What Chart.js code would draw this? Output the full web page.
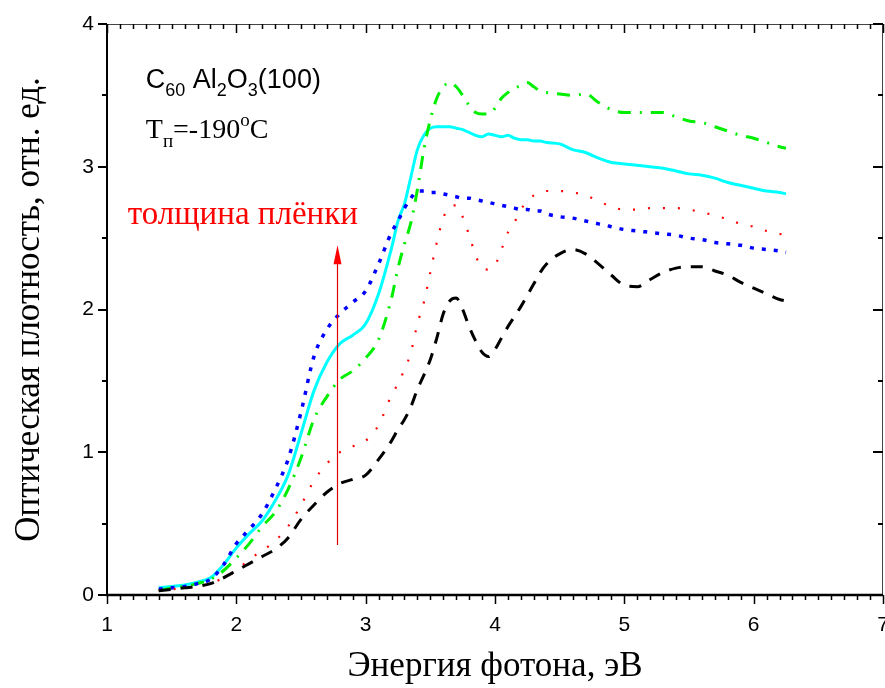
<!DOCTYPE html>
<html>
<head>
<meta charset="utf-8">
<script src="https://cdn.jsdelivr.net/npm/chart.js@4"></script>
<style>
  html, body { margin: 0; padding: 0; background: #fff; }
  #wrap { width: 885px; height: 688px; }
</style>
</head>
<body>
<div id="wrap"><canvas id="absorb"></canvas></div>
<script>
// photon energy, eV (shared by every spectrum)
const energy = [
  1.4, 1.5, 1.6, 1.7, 1.8, 1.9, 2.0, 2.1, 2.2, 2.3, 2.4, 2.5, 2.6, 2.7, 2.8, 2.9,
  3.0, 3.1, 3.2, 3.25, 3.3, 3.35, 3.4, 3.45, 3.5, 3.55, 3.6, 3.65, 3.7, 3.75, 3.8, 3.85,
  3.9, 3.95, 4.0, 4.05, 4.1, 4.15, 4.2, 4.25, 4.3, 4.35, 4.4, 4.5, 4.6, 4.7, 4.8, 4.9,
  5.0, 5.1, 5.2, 5.3, 5.4, 5.5, 5.6, 5.7, 5.8, 5.9, 6.0, 6.1, 6.2, 6.25
];

// optical density for five film thicknesses, thinnest first
const filmA = [ // black dashed
  0.03, 0.04, 0.05, 0.06, 0.08, 0.12, 0.17, 0.22, 0.27, 0.32, 0.40, 0.53, 0.63, 0.72, 0.78, 0.81,
  0.84, 0.95, 1.08, 1.16, 1.23, 1.32, 1.44, 1.54, 1.65, 1.80, 1.97, 2.06, 2.08, 2.00, 1.88, 1.78,
  1.70, 1.67, 1.72, 1.80, 1.88, 1.95, 2.02, 2.10, 2.18, 2.26, 2.32, 2.39, 2.42, 2.39, 2.32, 2.24,
  2.17, 2.16, 2.21, 2.26, 2.29, 2.30, 2.30, 2.27, 2.24, 2.19, 2.15, 2.11, 2.07, 2.06
];
const filmB = [ // red dotted
  0.03, 0.04, 0.05, 0.06, 0.08, 0.12, 0.17, 0.25, 0.31, 0.38, 0.48, 0.63, 0.80, 0.92, 1.00, 1.04,
  1.08, 1.19, 1.40, 1.48, 1.58, 1.70, 1.90, 2.05, 2.26, 2.47, 2.64, 2.72, 2.73, 2.65, 2.52, 2.38,
  2.29, 2.28, 2.31, 2.42, 2.54, 2.61, 2.70, 2.76, 2.80, 2.82, 2.83, 2.83, 2.82, 2.80, 2.76, 2.72,
  2.70, 2.70, 2.71, 2.71, 2.71, 2.70, 2.68, 2.66, 2.63, 2.60, 2.58, 2.55, 2.53, 2.52
];
const filmC = [ // blue short dots
  0.04, 0.05, 0.06, 0.08, 0.11, 0.21, 0.36, 0.46, 0.57, 0.74, 0.95, 1.28, 1.67, 1.86, 1.97, 2.05,
  2.13, 2.32, 2.54, 2.62, 2.71, 2.78, 2.83, 2.83, 2.82, 2.82, 2.81, 2.80, 2.79, 2.78, 2.78, 2.77,
  2.76, 2.75, 2.74, 2.73, 2.72, 2.71, 2.70, 2.70, 2.69, 2.69, 2.67, 2.65, 2.64, 2.62, 2.60, 2.58,
  2.56, 2.55, 2.54, 2.53, 2.52, 2.50, 2.49, 2.47, 2.46, 2.45, 2.43, 2.42, 2.41, 2.40
];
const filmD = [ // green dash-dot
  0.03, 0.05, 0.06, 0.08, 0.11, 0.17, 0.26, 0.36, 0.48, 0.58, 0.74, 0.96, 1.23, 1.39, 1.51, 1.57,
  1.66, 1.79, 2.08, 2.29, 2.46, 2.61, 2.84, 3.12, 3.33, 3.48, 3.56, 3.59, 3.56, 3.50, 3.43, 3.38,
  3.37, 3.37, 3.41, 3.48, 3.52, 3.55, 3.57, 3.59, 3.56, 3.53, 3.52, 3.51, 3.50, 3.51, 3.45, 3.40,
  3.38, 3.38, 3.38, 3.38, 3.35, 3.32, 3.31, 3.28, 3.25, 3.22, 3.20, 3.17, 3.14, 3.13
];
const filmE = [ // cyan solid
  0.05, 0.06, 0.07, 0.09, 0.12, 0.21, 0.33, 0.43, 0.52, 0.66, 0.84, 1.13, 1.43, 1.63, 1.76, 1.82,
  1.90, 2.11, 2.43, 2.62, 2.74, 2.93, 3.12, 3.22, 3.27, 3.28, 3.28, 3.28, 3.27, 3.26, 3.24, 3.22,
  3.21, 3.23, 3.22, 3.21, 3.22, 3.20, 3.19, 3.19, 3.18, 3.18, 3.17, 3.16, 3.12, 3.10, 3.06, 3.03,
  3.02, 3.01, 3.00, 2.99, 2.97, 2.95, 2.94, 2.92, 2.89, 2.87, 2.85, 2.83, 2.82, 2.81
];

const xTicks = [1, 2, 3, 4, 5, 6, 7];
const yTicks = [0, 1, 2, 3, 4];

// thickness arrow: energy position and optical-density span
const arrowX = 2.78;
const arrowFrom = 0.35;
const arrowTo = 2.45;

const pts = ys => energy.map((x, i) => ({ x, y: ys[i] }));

function series(label, ys, color, width, dash) {
  return {
    label,
    data: pts(ys),
    borderColor: color,
    backgroundColor: color,
    borderWidth: width,
    borderDash: dash,
    borderCapStyle: 'butt',
    pointRadius: 0,
    cubicInterpolationMode: 'monotone',
    fill: false
  };
}

// frame, inner/outer ticks and the text labels inside the plot
const framePlugin = {
  id: 'frame',
  afterDraw(chart) {
    const { ctx, chartArea: a, scales: { x, y } } = chart;
    ctx.save();

    // top and right frame (thin)
    ctx.lineWidth = 1;
    ctx.strokeStyle = '#444';
    ctx.beginPath();
    ctx.moveTo(a.left, a.top + 0.5);
    ctx.lineTo(a.right, a.top + 0.5);
    ctx.moveTo(a.right - 0.5, a.top);
    ctx.lineTo(a.right - 0.5, a.bottom);
    ctx.stroke();

    // left and bottom axes
    ctx.strokeStyle = '#000';
    ctx.lineWidth = 2;
    ctx.beginPath();
    ctx.moveTo(a.left, a.top);
    ctx.lineTo(a.left, a.bottom);
    ctx.stroke();
    ctx.lineWidth = 2.5;
    ctx.beginPath();
    ctx.moveTo(a.left - 1, a.bottom);
    ctx.lineTo(a.right, a.bottom);
    ctx.stroke();

    // x ticks: every 0.1, long at integers
    ctx.lineWidth = 1.5;
    ctx.beginPath();
    for (let i = 10; i <= 70; i++) {
      const px = Math.round(x.getPixelForValue(i / 10)) + 0.5;
      const len = i % 10 === 0 ? 9 : 5;
      ctx.moveTo(px, a.bottom);
      ctx.lineTo(px, a.bottom + len);
      ctx.moveTo(px, a.top);
      ctx.lineTo(px, a.top + len);
    }
    ctx.stroke();

    // y ticks: every 0.5, long at integers
    ctx.lineWidth = 2;
    ctx.beginPath();
    for (let i = 0; i <= 8; i++) {
      const py = Math.round(y.getPixelForValue(i / 2));
      const major = i % 2 === 0;
      ctx.moveTo(a.left, py);
      ctx.lineTo(a.left - (major ? 9 : 5), py);
      ctx.moveTo(a.right, py);
      ctx.lineTo(a.right - (major ? 10 : 5), py);
    }
    ctx.stroke();

    // arrow showing growth of film thickness
    const ax = Math.round(x.getPixelForValue(arrowX)) + 0.5;
    const ay0 = y.getPixelForValue(arrowFrom);
    const ay1 = y.getPixelForValue(arrowTo);
    ctx.strokeStyle = '#e00000';
    ctx.fillStyle = '#ff0000';
    ctx.lineWidth = 1.2;
    ctx.beginPath();
    ctx.moveTo(ax, ay0);
    ctx.lineTo(ax, ay1 + 18);
    ctx.stroke();
    ctx.beginPath();
    ctx.moveTo(ax, ay1);
    ctx.lineTo(ax - 4, ay1 + 19);
    ctx.lineTo(ax + 4, ay1 + 19);
    ctx.closePath();
    ctx.fill();

    ctx.textBaseline = 'alphabetic';
    ctx.textAlign = 'left';

    const put = (txt, px, py, font) => {
      ctx.font = font;
      ctx.fillText(txt, px, py);
      return px + ctx.measureText(txt).width;
    };

    // sample label with subscripts
    ctx.fillStyle = '#000';
    const big = '27px "Liberation Sans", Arial, sans-serif';
    const sub = '18px "Liberation Sans", Arial, sans-serif';
    let cx = x.getPixelForValue(1.3);
    const by = y.getPixelForValue(3.55);
    cx = put('C', cx, by, big);
    cx = put('60', cx, by + 8, sub);
    cx = put(' Al', cx, by, big);
    cx = put('2', cx, by + 8, sub);
    cx = put('O', cx, by, big);
    cx = put('3', cx, by + 8, sub);
    put('(100)', cx, by, big);

    // substrate temperature
    const serif = '28px "Liberation Serif", "Times New Roman", serif';
    const serifSmall = '19px "Liberation Serif", "Times New Roman", serif';
    let tx = x.getPixelForValue(1.3);
    const ty = y.getPixelForValue(3.2);
    tx = put('T', tx, ty, serif);
    tx = put('п', tx, ty + 9, serifSmall);
    tx = put('=-190', tx, ty, serif);
    tx = put('o', tx, ty - 12, serifSmall);
    put('C', tx, ty, serif);

    // thickness caption
    ctx.fillStyle = '#ff0000';
    put('толщина плёнки', x.getPixelForValue(1.16), y.getPixelForValue(2.6),
      '33px "Liberation Serif", "Times New Roman", serif');

    ctx.restore();
  }
};

new Chart(document.getElementById('absorb'), {
  type: 'line',
  data: {
    datasets: [
      series('d1', filmA, '#000000', 3, [12, 10]),
      series('d2', filmB, '#ff0000', 2.2, [2, 13]),
      series('d3', filmC, '#0000ff', 3.5, [4, 8]),
      series('d4', filmD, '#00ee00', 3, [13, 9, 2, 9]),
      series('d5', filmE, '#00ffff', 3, [])
    ]
  },
  options: {
    responsive: true,
    maintainAspectRatio: false,
    animation: false,
    events: [],
    layout: { padding: { top: 24, right: 2, left: 0, bottom: 0 } },
    plugins: {
      legend: { display: false },
      tooltip: { enabled: false }
    },
    scales: {
      x: {
        type: 'linear',
        min: 1,
        max: 7,
        afterFit: s => { s.height = 93; s.paddingLeft = 0; s.paddingRight = 0; },
        afterBuildTicks: s => { s.ticks = xTicks.map(v => ({ value: v })); },
        grid: { display: false, drawTicks: false },
        border: { display: false },
        ticks: {
          color: '#000',
          padding: 18,
          font: { family: '"Liberation Sans", Arial, sans-serif', size: 21 }
        },
        title: {
          display: true,
          text: 'Энергия фотона, эВ',
          color: '#000',
          padding: { top: 0, bottom: 0 },
          font: { family: '"Liberation Serif", "Times New Roman", serif', size: 35 }
        }
      },
      y: {
        type: 'linear',
        min: 0,
        max: 4,
        afterFit: s => { s.width = 107; s.paddingTop = 0; s.paddingBottom = 0; },
        afterBuildTicks: s => { s.ticks = yTicks.map(v => ({ value: v })); },
        grid: { display: false, drawTicks: false },
        border: { display: false },
        ticks: {
          color: '#000',
          padding: 13,
          font: { family: '"Liberation Sans", Arial, sans-serif', size: 21 }
        },
        title: {
          display: true,
          text: 'Оптическая плотность, отн. ед.',
          color: '#000',
          padding: { top: 9, bottom: 0 },
          font: { family: '"Liberation Serif", "Times New Roman", serif', size: 35 }
        }
      }
    }
  },
  plugins: [framePlugin]
});
</script>
</body>
</html>
